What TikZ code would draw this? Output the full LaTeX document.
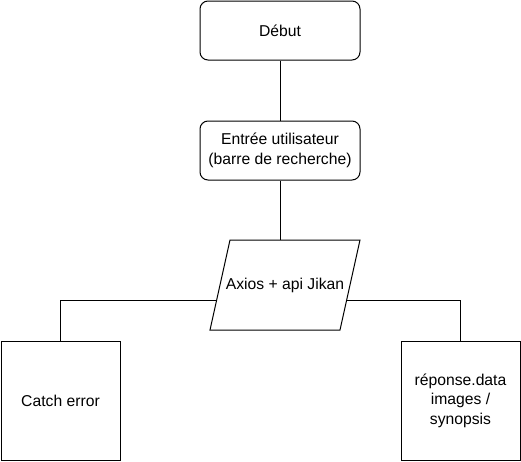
\documentclass[tikz,border=0pt]{standalone}
\usepackage{fontspec}
\setmainfont{Liberation Sans}
\begin{document}
\begin{tikzpicture}[x=1pt,y=-1pt,line width=1pt,
  txt/.style={font=\fontsize{15.7}{19.5}\selectfont},
  rbox/.style={draw,rounded corners=8pt,minimum width=160pt,minimum height=59pt,align=center,inner sep=0pt,txt},
  sbox/.style={draw,minimum width=119pt,minimum height=119pt,align=center,inner sep=0pt,txt},
  lbl/.style={align=center,inner sep=0pt,txt},
  link/.style={draw=black}]
\useasboundingbox (0,0) rectangle (521,461);
\node[rbox] (debut) at (280,30.5) {Début};
\node[rbox] (entree) at (280,150.5) {Entrée utilisateur\\(barre de recherche)};
\coordinate (ptl) at (230,240);
\coordinate (ptr) at (360,240);
\coordinate (pbr) at (340,330);
\coordinate (pbl) at (210,330);
\draw (ptl) -- (ptr) -- (pbr) -- (pbl) -- cycle;
\node[lbl] (axios) at (285,285) {Axios + api Jikan};
\coordinate (ptop) at (280,240);
\coordinate (pl) at (216.7,300);
\coordinate (pr) at (346.7,300);
\node[sbox] (catch) at (60.5,400.5) {Catch error};
\node[sbox] (rep) at (460.5,400.5) {réponse.data\\images /\\synopsis};
\draw[link] (debut) -- (entree);
\draw[link] (entree) -- (ptop);
\draw[link] (pl) -| (catch.north);
\draw[link] (pr) -| (rep.north);
\end{tikzpicture}
\end{document}
